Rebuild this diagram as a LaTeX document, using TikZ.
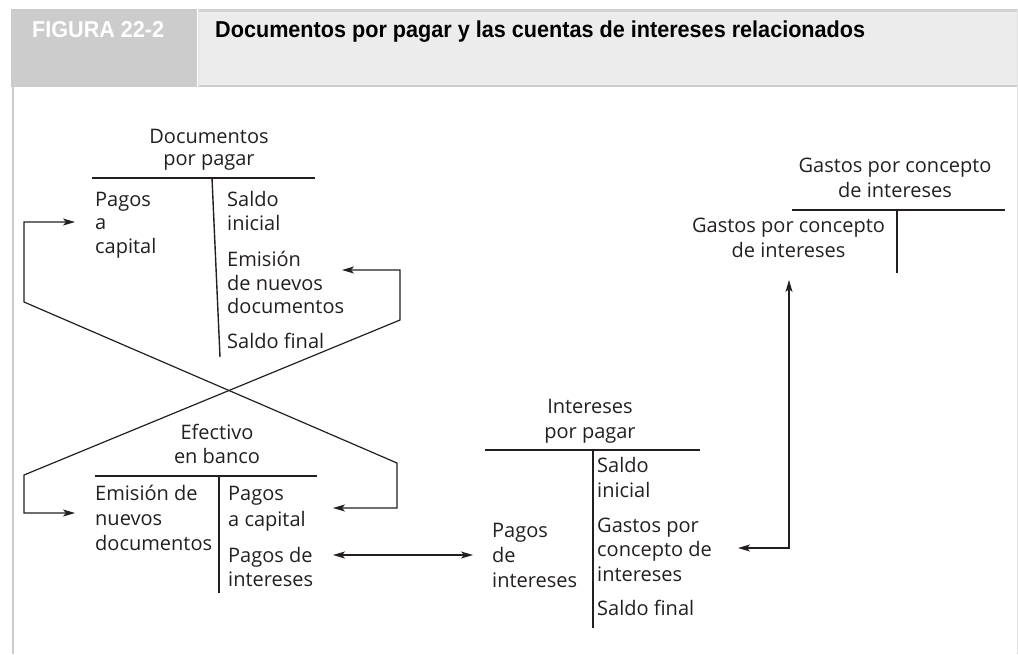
\documentclass[tikz,border=0pt]{standalone}
\usepackage{fontspec}
\setmainfont{Open Sans}
\newfontfamily\hdrfont{Liberation Sans}
\usepackage{graphicx}
\usetikzlibrary{arrows.meta}
\definecolor{ink}{HTML}{231F20}
\definecolor{hdrdark}{HTML}{CCCCCC}
\definecolor{hdrlight}{HTML}{ECECEC}
\definecolor{hdrband}{HTML}{D2D2D2}
\definecolor{faint}{HTML}{E2E2E2}
\tikzset{
  lbl/.style={inner sep=0pt, anchor=base west, text=ink, font=\fontsize{20}{24}\selectfont},
  ctr/.style={lbl, anchor=base},
  tline/.style={draw=ink, line width=1.4pt},
  tip/.tip={Stealth[length=12pt,width=7pt,inset=3pt]},
  flow/.style={draw=ink, line width=1.2pt, tip-tip, line join=miter},
  hdrtext/.style={inner sep=0pt, anchor=base west, font=\hdrfont\bfseries\fontsize{23}{27}\selectfont},
}
\begin{document}
\begin{tikzpicture}[x=1pt,y=-1pt]
\useasboundingbox (0,0) rectangle (1018,654);
% header
\fill[hdrdark] (11,9) rectangle (197,87);
\fill[hdrlight] (198,9) rectangle (1018,87);
\fill[hdrband] (198,9) rectangle (1018,12);
\fill[hdrdark] (198,84.5) rectangle (1018,87);
\draw[faint, line width=1pt] (198.5,9) -- (198.5,87);
\draw[faint, line width=1pt] (1017.5,9) -- (1017.5,654);
\fill[hdrdark] (11.5,87) rectangle (14.3,654);
\node[hdrtext, text=white] (fig) at (32,37) {\resizebox{132pt}{\height}{FIGURA 22-2}};
\node[hdrtext, text=black] (title) at (215,37) {\resizebox{650pt}{\height}{Documentos por pagar y las cuentas de intereses relacionados}};

% Documentos por pagar
\node[ctr] (dpA) at (209,143) {Documentos};
\node[ctr] (dpB) at (209,165) {por pagar};
\coordinate (dpL) at (92,178);
\coordinate (dpR) at (315,178);
\coordinate (dpT) at (212,178);
\coordinate (dpE) at (220,357);
\draw[tline] (dpL) -- (dpR);
\draw[tline] (dpT) -- (dpE);
\node[lbl] (dp1) at (95,206) {Pagos};
\node[lbl] (dp2) at (95,229) {a};
\node[lbl] (dp3) at (95,253) {capital};
\node[lbl] (dp4) at (227,206) {Saldo};
\node[lbl] (dp5) at (227,230) {inicial};
\node[lbl] (dp6) at (227,266) {Emisión};
\node[lbl] (dp7) at (227,290) {de nuevos};
\node[lbl] (dp8) at (227,313) {documentos};
\node[lbl] (dp9) at (227,348) {Saldo final};

% Efectivo en banco
\node[ctr] (ebA) at (217,439) {Efectivo};
\node[ctr] (ebB) at (217,463) {en banco};
\coordinate (ebL) at (95,476);
\coordinate (ebR) at (317,476);
\coordinate (ebT) at (219,476);
\coordinate (ebE) at (219,593);
\draw[tline] (ebL) -- (ebR);
\draw[tline] (ebT) -- (ebE);
\node[lbl] (eb1) at (95,500) {Emisión de};
\node[lbl] (eb2) at (95,525.5) {nuevos};
\node[lbl] (eb3) at (95,550) {documentos};
\node[lbl] (eb4) at (228,500) {Pagos};
\node[lbl] (eb5) at (228,526) {a capital};
\node[lbl] (eb6) at (228,562) {Pagos de};
\node[lbl] (eb7) at (228,586) {intereses};

% Intereses por pagar
\node[ctr] (ipA) at (590,413) {Intereses};
\node[ctr] (ipB) at (590,438) {por pagar};
\coordinate (ipL) at (485,450);
\coordinate (ipR) at (700,450);
\coordinate (ipT) at (593,450);
\coordinate (ipE) at (593,628);
\draw[tline] (ipL) -- (ipR);
\draw[tline] (ipT) -- (ipE);
\node[lbl] (ip1) at (492,537) {Pagos};
\node[lbl] (ip2) at (492,562) {de};
\node[lbl] (ip3) at (492,587) {intereses};
\node[lbl] (ip4) at (597,472) {Saldo};
\node[lbl] (ip5) at (597,497) {inicial};
\node[lbl] (ip6) at (597,532) {Gastos por};
\node[lbl] (ip7) at (597,556) {concepto de};
\node[lbl] (ip8) at (597,581) {intereses};
\node[lbl] (ip9) at (597,615) {Saldo final};

% Gastos por concepto de intereses
\node[ctr] (giA) at (895,172) {Gastos por concepto};
\node[ctr] (giB) at (895,197) {de intereses};
\coordinate (giL) at (792,210);
\coordinate (giR) at (1005,210);
\coordinate (giT) at (897,210);
\coordinate (giE) at (897,273);
\draw[tline] (giL) -- (giR);
\draw[tline] (giT) -- (giE);
\node[ctr] (gi1) at (788.5,232) {Gastos por concepto};
\node[ctr] (gi2) at (788.5,257) {de intereses};

% flows
\coordinate (f1a) at (75,222);
\coordinate (f1b) at (24,222);
\coordinate (f1c) at (24,302);
\coordinate (f1d) at (397,463);
\coordinate (f1e) at (397,508);
\coordinate (f1f) at (333,508);
\draw[flow] (f1a) -- (f1b) -- (f1c) -- (f1d) -- (f1e) -- (f1f);

\coordinate (f2a) at (342,270);
\coordinate (f2b) at (400,270);
\coordinate (f2c) at (400,320);
\coordinate (f2d) at (24,475);
\coordinate (f2e) at (24,513);
\coordinate (f2f) at (75,513);
\draw[flow] (f2a) -- (f2b) -- (f2c) -- (f2d) -- (f2e) -- (f2f);

\coordinate (f3a) at (333,555);
\coordinate (f3b) at (473,555);
\draw[flow] (f3a) -- (f3b);

\coordinate (f4a) at (738,548);
\coordinate (f4b) at (789,548);
\coordinate (f4c) at (789,280);
\draw[flow] (f4a) -- (f4b) -- (f4c);
\end{tikzpicture}
\end{document}
